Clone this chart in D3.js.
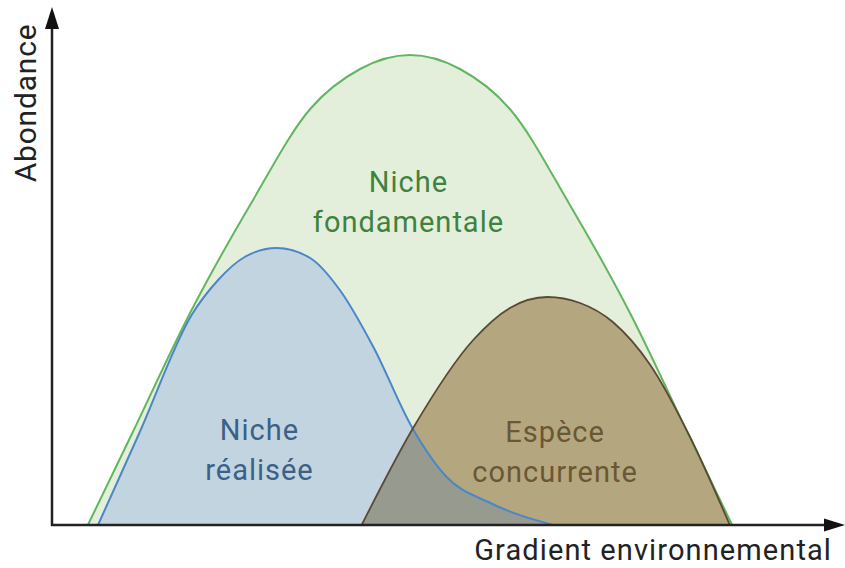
<!DOCTYPE html>
<html>
<head>
<meta charset="utf-8">
<script src="https://cdn.jsdelivr.net/npm/d3@7"></script>
<style>
  body { margin: 0; background: #fff; }
  text { font-family: Roboto, "Liberation Sans", sans-serif; }
</style>
</head>
<body>
<div id="chart-area"></div>
<script>
// curves (x = gradient 0-100, y = abundance 0-100)
const fundX = [4.6, 10.3, 17.7, 25.4, 33.1, 39.5, 45.9, 52.3, 58.7, 66.4, 74.1, 81.5, 87.2];
const fundY = [0, 18.4, 42.4, 64, 83.2, 91.2, 94, 91.2, 83.2, 64, 42.4, 18.4, 0];

const realX = [5.9, 11.2, 17.9, 21.3, 24.7, 28.8, 33.1, 36.9, 41.2, 46.2, 50.6, 56.2, 64.2];
const realY = [0, 18.4, 42, 49, 53.6, 55.4, 53.4, 47, 35.6, 19.4, 9.6, 4.4, 0];

const compX = [39.7, 46.3, 54, 58.7, 63.5, 67.7, 71.9, 76.7, 81.8, 86.9];
const compY = [0, 19.4, 37, 43.4, 45.6, 44.4, 40.6, 32, 17.6, 0];

const labels = [
  { lines: ["Niche", "fondamentale"], x: 45.7, y: 66.6, color: "#3f8240" },
  { lines: ["Niche", "réalisée"], x: 26.6, y: 17, color: "#3a6189" },
  { lines: ["Espèce", "concurrente"], x: 64.5, y: 16.6, color: "#6b5733" }
];

const width = 845, height = 568;

const svg = d3
  .select("#chart-area")
  .append("svg")
  .attr("width", width)
  .attr("height", height);

const x = d3.scaleLinear().domain([0, 100]).range([52, 832]);
const y = d3.scaleLinear().domain([0, 100]).range([525, 25]);

const zip = (xs, ys) => xs.map((v, i) => [v, ys[i]]);
const fund = zip(fundX, fundY);
const real = zip(realX, realY);
const comp = zip(compX, compY);

const line = d3
  .line()
  .x((d) => x(d[0]))
  .y((d) => y(d[1]))
  .curve(d3.curveMonotoneX);

const defs = svg.append("defs");
defs.append("clipPath").attr("id", "clip-real").append("path").attr("d", line(real) + "Z");

// fills
svg.append("path").attr("d", line(fund) + "Z").attr("fill", "#e4efdb");
svg.append("path").attr("d", line(real) + "Z").attr("fill", "#c2d4df");
svg.append("path").attr("d", line(comp) + "Z").attr("fill", "#b4a77f");
svg
  .append("path")
  .attr("d", line(comp) + "Z")
  .attr("clip-path", "url(#clip-real)")
  .attr("fill", "#979a8f");

// outlines
svg.append("path").attr("d", line(fund)).attr("fill", "none").attr("stroke", "#62b660").attr("stroke-width", 2);
svg.append("path").attr("d", line(real)).attr("fill", "none").attr("stroke", "#4a86c8").attr("stroke-width", 2);
svg.append("path").attr("d", line(comp)).attr("fill", "none").attr("stroke", "#5a4a33").attr("stroke-width", 1.8);

// labels
labels.forEach((l) => {
  const t = svg
    .append("text")
    .attr("text-anchor", "middle")
    .attr("fill", l.color)
    .attr("font-size", 29)
    .attr("letter-spacing", 1);
  l.lines.forEach((s, i) => {
    t.append("tspan")
      .attr("x", x(l.x))
      .attr("y", y(l.y) + i * 40)
      .text(s);
  });
});

// axes
svg
  .append("path")
  .attr("d", `M52,24V525H828`)
  .attr("fill", "none")
  .attr("stroke", "#222")
  .attr("stroke-width", 2.5);
svg.append("path").attr("d", "M52,7L45,29H59Z").attr("fill", "#111");
svg.append("path").attr("d", "M845,525L824,518.5V531.5Z").attr("fill", "#111");

svg
  .append("text")
  .attr("transform", "translate(36,103) rotate(-90)")
  .attr("text-anchor", "middle")
  .attr("font-size", 30)
  .attr("letter-spacing", 0.8)
  .attr("fill", "#222")
  .text("Abondance");

svg
  .append("text")
  .attr("x", 832)
  .attr("y", 560)
  .attr("text-anchor", "end")
  .attr("font-size", 29)
  .attr("letter-spacing", 1.1)
  .attr("fill", "#222")
  .text("Gradient environnemental");
</script>
</body>
</html>
